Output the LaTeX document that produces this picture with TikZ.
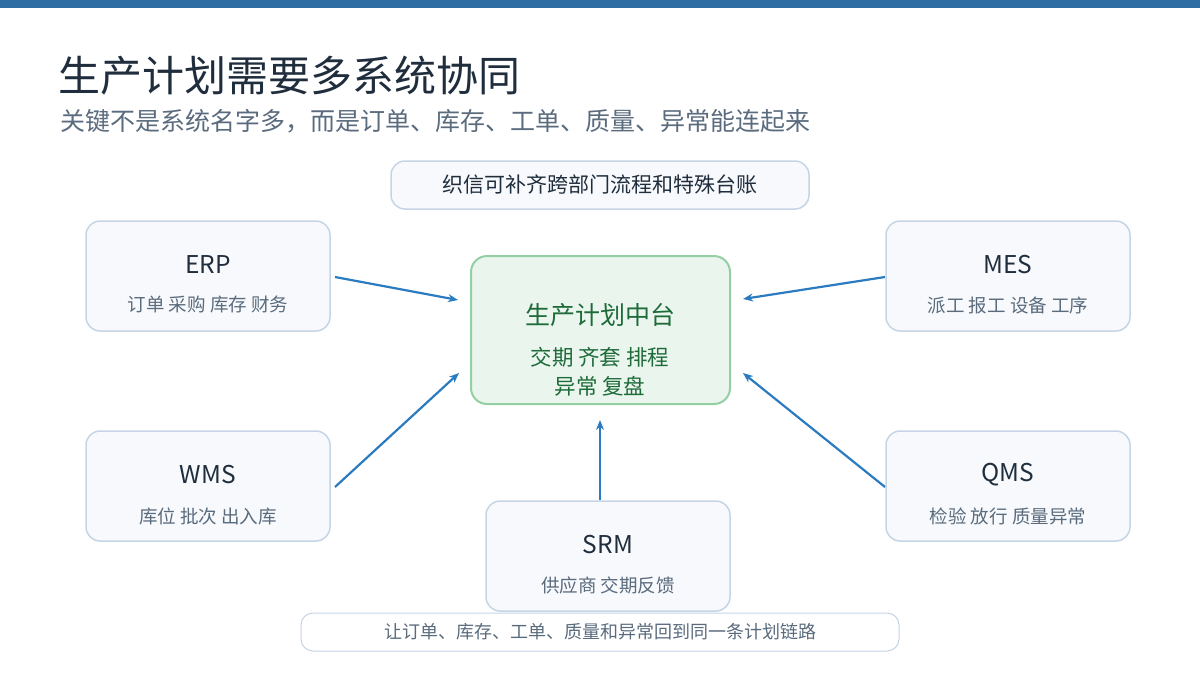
\documentclass[tikz,border=0pt]{standalone}
\usepackage{fontspec}
\setmainfont{Noto Sans CJK SC}
\usetikzlibrary{arrows.meta}
\definecolor{barc}{HTML}{2E6DA4}
\definecolor{titc}{HTML}{1F2D3D}
\definecolor{subc}{HTML}{5A6B7D}
\definecolor{boxf}{HTML}{F7F9FC}
\definecolor{boxd}{HTML}{C5D5E5}
\definecolor{cenf}{HTML}{EAF5EE}
\definecolor{cend}{HTML}{93CFA3}
\definecolor{cent}{HTML}{1E6B3A}
\definecolor{arr}{HTML}{2B7BC0}
\begin{document}
\begin{tikzpicture}[x=1pt,y=-1pt,
  sys/.style={draw=boxd,line width=1.5pt,fill=boxf,rounded corners=14pt,minimum width=244pt,minimum height=110pt,inner sep=0pt},
  stit/.style={font=\fontsize{24.5}{28}\selectfont,text=titc},
  ssub/.style={font=\fontsize{18.5}{22}\selectfont,text=subc},
  ar/.style={draw=arr,line width=2.2pt,-{Stealth[length=10pt,width=8pt]}}]
\useasboundingbox (0,0) rectangle (1200,675);
\fill[barc] (0,0) rectangle (1200,8);
\node[anchor=base west,font=\fontsize{42}{48}\selectfont,text=titc,inner sep=0] (t) at (58,91) {生产计划需要多系统协同};
\node[anchor=base west,font=\fontsize{25}{30}\selectfont,text=subc,inner sep=0] (s) at (60,130) {关键不是系统名字多，而是订单、库存、工单、质量、异常能连起来};
\node[draw=boxd,line width=1.5pt,fill=boxf,rounded corners=14pt,minimum width=418pt,minimum height=48pt,font=\fontsize{21}{24}\selectfont,text=titc] (top) at (600,185) {织信可补齐跨部门流程和特殊台账};
\node[sys] (erp) at (208,276) {}; \node[stit] at (208,265) {ERP}; \node[ssub] at (208,305) {订单 采购 库存 财务};
\node[sys] (mes) at (1008,276) {}; \node[stit] at (1008,265) {MES}; \node[ssub] at (1008,305) {派工 报工 设备 工序};
\node[sys] (wms) at (208,486) {}; \node[stit] at (208,475) {WMS}; \node[ssub] at (208,516) {库位 批次 出入库};
\node[sys] (qms) at (1008,486) {}; \node[stit] at (1008,475) {QMS}; \node[ssub] at (1008,516) {检验 放行 质量异常};
\node[sys] (srm) at (608,556) {}; \node[stit] at (608,545) {SRM}; \node[ssub] at (608,585) {供应商 交期反馈};
\node[draw=cend,line width=2pt,fill=cenf,rounded corners=16pt,minimum width=259pt,minimum height=148pt] (c) at (600.5,330) {};
\node[font=\fontsize{25}{30}\selectfont,text=cent] at (600,315) {生产计划中台};
\node[font=\fontsize{21.5}{24}\selectfont,text=cent] at (600,357) {交期 齐套 排程};
\node[font=\fontsize{21.5}{24}\selectfont,text=cent] at (600,386) {异常 复盘};
\node[draw=boxd,line width=1pt,fill=white,rounded corners=12pt,minimum width=598pt,minimum height=38pt,font=\fontsize{18}{22}\selectfont,text=subc] (bot) at (600,632) {让订单、库存、工单、质量和异常回到同一条计划链路};
\coordinate (e1) at (335,277); \coordinate (e2) at (458,300);
\coordinate (m1) at (885,277); \coordinate (m2) at (743,299);
\coordinate (w1) at (335,487); \coordinate (w2) at (459,373);
\coordinate (q1) at (885,487); \coordinate (q2) at (743,373);
\coordinate (s1) at (600,500); \coordinate (s2) at (600,420);
\draw[ar] (e1) -- (e2); \draw[ar] (m1) -- (m2); \draw[ar] (w1) -- (w2); \draw[ar] (q1) -- (q2); \draw[ar] (s1) -- (s2);
\end{tikzpicture}
\end{document}
